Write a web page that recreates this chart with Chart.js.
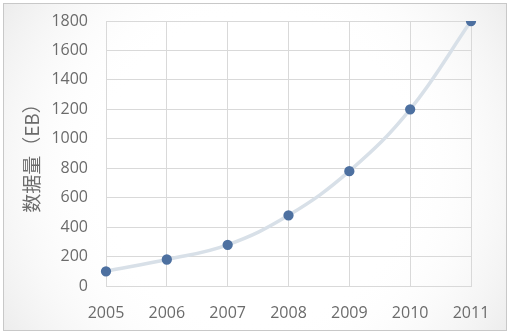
<!DOCTYPE html>
<html>
<head>
<meta charset="utf-8">
<script src="https://cdn.jsdelivr.net/npm/chart.js@4/dist/chart.umd.min.js"></script>
<style>
  html, body { margin: 0; padding: 0; background: #fff; }
  #wrap { width: 512px; height: 336px; position: relative; }
</style>
</head>
<body>
<div id="wrap"><canvas id="dataChart" width="512" height="336"></canvas></div>
<script>
// Years on the x axis and data volume (EB)
const years = ['2005', '2006', '2007', '2008', '2009', '2010', '2011'];
const volumeEB = [100, 180, 280, 480, 780, 1200, 1800];
const yTitle = '数据量（EB）';

// Frame with soft edges, like the pasted Excel picture
const framePlugin = {
    id: 'frame',
    beforeDraw(chart) {
        const ctx = chart.ctx;
        ctx.save();
        ctx.fillStyle = '#ffffff';
        ctx.fillRect(0, 0, chart.width, chart.height);
        const g = ctx.createRadialGradient(256, 168, 150, 256, 168, 330);
        g.addColorStop(0, 'rgba(255,255,255,0)');
        g.addColorStop(1, 'rgba(225,225,225,0.9)');
        ctx.fillStyle = g;
        ctx.fillRect(3, 3, 504, 328);
        ctx.strokeStyle = '#c8c8c8';
        ctx.lineWidth = 1;
        ctx.strokeRect(3.5, 3.5, 503, 327);
        ctx.restore();
    }
};

const ctx = document.getElementById('dataChart');
new Chart(ctx, {
    type: 'line',
    data: {
        labels: years,
        datasets: [{
            label: yTitle,
            data: volumeEB,
            borderColor: '#d8e0e8',
            borderWidth: 3.5,
            pointBackgroundColor: '#4d70a0',
            pointBorderColor: '#4d70a0',
            pointRadius: 3.4,
            tension: 0.4,
            fill: false
        }]
    },
    options: {
        responsive: false,
        animation: false,
        layout: {
            padding: { left: 0, top: 21, right: 41, bottom: 0 }
        },
        plugins: {
            legend: { display: false },
            tooltip: { enabled: false }
        },
        scales: {
            x: {
                offset: false,
                grid: { color: '#d9d9d9', drawTicks: false },
                border: { color: '#d9d9d9' },
                ticks: {
                    color: '#6b6b6b',
                    padding: 18,
                    maxRotation: 0,
                    font: { family: 'Open Sans', size: 16 }
                },
                afterFit(scale) { scale.height = 50; }
            },
            y: {
                min: 0,
                max: 1800,
                grid: { color: '#d9d9d9', drawTicks: false },
                border: { color: '#d9d9d9' },
                ticks: {
                    stepSize: 200,
                    color: '#6b6b6b',
                    padding: 18,
                    font: { family: 'Open Sans', size: 16 },
                    callback: v => String(v)
                },
                title: {
                    display: true,
                    text: yTitle,
                    color: '#6b6b6b',
                    padding: { top: 20 },
                    font: { family: '"Noto Sans CJK SC", sans-serif', size: 19 }
                },
                afterFit(scale) {
                    scale.width = 106;
                    scale.paddingTop = 0;
                    scale.paddingBottom = 0;
                }
            }
        }
    },
    plugins: [framePlugin]
});
</script>
</body>
</html>
